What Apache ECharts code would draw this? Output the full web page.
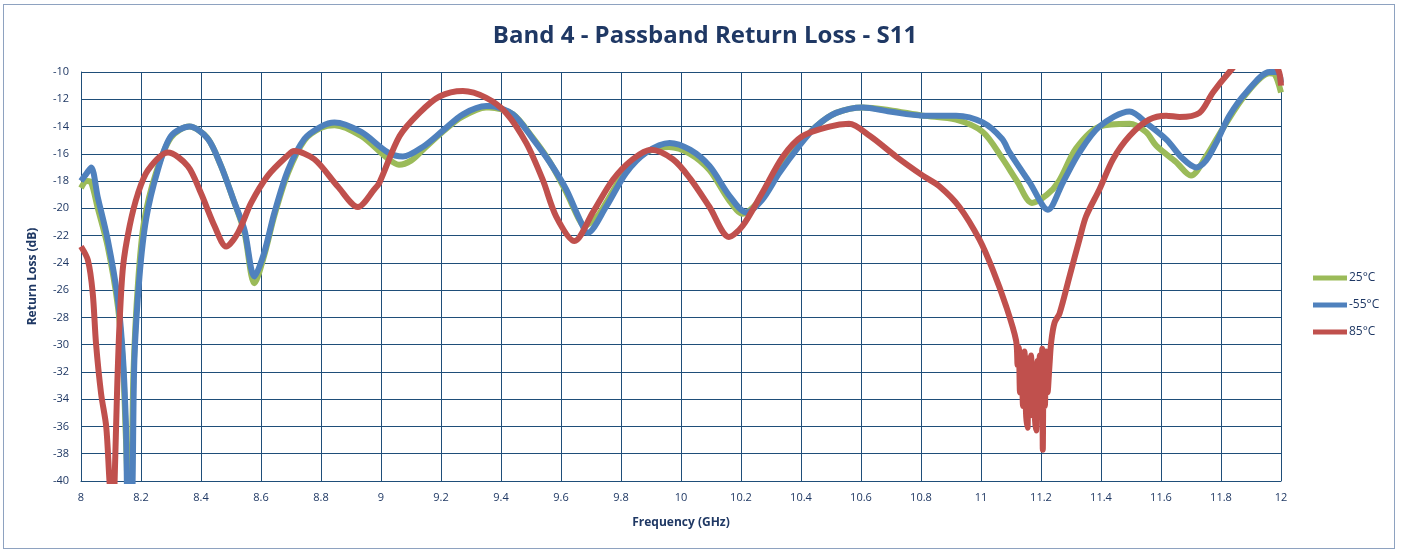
<!DOCTYPE html>
<html><head><meta charset="utf-8">
<script src="https://cdn.jsdelivr.net/npm/echarts@6/dist/echarts.min.js"></script>
<style>
html,body{margin:0;padding:0;background:#fff;}
#frame{position:absolute;left:3px;top:4px;width:1392px;height:545px;border:1px solid #8ea2c0;box-sizing:border-box;}
#chart{position:absolute;left:0;top:0;width:1401px;height:552px;}
</style></head>
<body>
<div id="frame"></div>
<div id="chart"></div>
<script>
const seriesNames = ['25°C', '-55°C', '85°C'];
const freq25 = [8.0,8.02,8.034,8.056,8.089,8.123,8.14,8.15,8.16,8.165,8.175,8.19,8.21,8.25,8.30,8.36,8.42,8.465,8.51,8.545,8.578,8.61,8.645,8.69,8.745,8.80,8.845,8.934,9.02,9.06,9.10,9.14,9.205,9.27,9.35,9.36,9.44,9.505,9.56,9.617,9.66,9.678,9.72,9.75,9.817,9.884,9.96,10.03,10.095,10.16,10.205,10.27,10.33,10.395,10.45,10.517,10.606,10.695,10.806,10.917,11.006,11.07,11.12,11.17,11.22,11.26,11.317,11.395,11.495,11.55,11.584,11.65,11.70,11.75,11.81,11.884,11.962,11.98,12.0];
const rl25 = [-18.5,-18.0,-18.1,-20.0,-22.8,-27.2,-31.5,-37,-42,-42,-32,-25.5,-21.0,-17.4,-14.8,-14.0,-14.8,-16.8,-19.5,-21.8,-25.5,-23.5,-20.5,-17.4,-15.0,-14.1,-13.9,-14.7,-16.3,-16.8,-16.5,-15.7,-14.4,-13.3,-12.6,-12.6,-13.1,-14.8,-16.5,-18.8,-20.8,-21.3,-20.6,-19.6,-17.2,-15.9,-15.5,-16.0,-17.2,-19.4,-20.4,-19.2,-17.1,-15.3,-14.0,-13.0,-12.6,-12.8,-13.2,-13.5,-14.4,-16.3,-18.0,-19.6,-19.0,-18.0,-15.6,-14.0,-13.8,-14.4,-15.4,-16.6,-17.6,-16.2,-14.0,-11.6,-10.1,-10.2,-11.5];
const freqM55 = [8.0,8.02,8.034,8.056,8.089,8.123,8.14,8.15,8.157,8.168,8.178,8.195,8.217,8.256,8.30,8.362,8.423,8.467,8.512,8.545,8.578,8.61,8.645,8.69,8.745,8.80,8.845,8.934,9.023,9.073,9.139,9.206,9.273,9.351,9.362,9.439,9.506,9.562,9.617,9.662,9.689,9.75,9.817,9.884,9.962,10.03,10.095,10.162,10.217,10.27,10.328,10.395,10.45,10.517,10.606,10.695,10.806,10.917,11.006,11.07,11.095,11.162,11.223,11.273,11.328,11.395,11.495,11.56,11.62,11.67,11.717,11.75,11.784,11.828,11.884,11.962,11.99,12.0];
const rlM55 = [-18.0,-17.4,-17.0,-19.2,-22.3,-26.7,-31,-36,-42,-42,-31.1,-25.0,-20.8,-17.2,-14.7,-14.0,-14.9,-16.9,-19.6,-21.6,-25.0,-23.3,-20.3,-17.2,-14.9,-14.0,-13.7,-14.4,-15.9,-16.2,-15.5,-14.3,-13.1,-12.5,-12.5,-13.1,-14.9,-16.6,-18.6,-20.8,-21.8,-19.9,-17.4,-15.9,-15.2,-15.7,-16.9,-19.1,-20.3,-19.4,-17.4,-15.4,-14.0,-13.0,-12.6,-12.9,-13.2,-13.2,-13.7,-14.9,-15.9,-18.1,-20.1,-18.1,-15.9,-14.0,-12.9,-13.9,-15.0,-16.3,-17.0,-16.5,-15.2,-13.2,-11.5,-10.0,-10.0,-10.8];
const freq85 = [8.0,8.023,8.039,8.05,8.067,8.084,8.095,8.103,8.108,8.112,8.12,8.128,8.14,8.162,8.19,8.223,8.29,8.356,8.40,8.445,8.484,8.523,8.567,8.623,8.69,8.71,8.778,8.856,8.923,8.978,8.995,9.062,9.128,9.195,9.273,9.351,9.417,9.484,9.539,9.584,9.645,9.706,9.773,9.839,9.90,9.973,10.03,10.095,10.16,10.205,10.27,10.34,10.405,10.495,10.56,10.63,10.717,10.806,10.862,10.928,10.995,11.039,11.084,11.117,11.122,11.126,11.13,11.135,11.14,11.145,11.15,11.155,11.158,11.162,11.167,11.172,11.176,11.18,11.184,11.188,11.192,11.196,11.2,11.204,11.206,11.209,11.213,11.217,11.222,11.228,11.234,11.245,11.262,11.295,11.328,11.35,11.395,11.44,11.495,11.56,11.617,11.662,11.728,11.773,11.828,11.86,11.95,11.99,12.0];
const rl85 = [-22.8,-23.8,-26.2,-29.9,-33.6,-36.0,-40,-42,-42,-40,-33.6,-28.7,-24.3,-21.3,-18.9,-17.2,-15.9,-16.9,-18.9,-21.3,-22.8,-21.8,-19.6,-17.6,-16.1,-15.8,-16.4,-18.4,-19.9,-18.6,-18.1,-14.7,-13.0,-11.8,-11.4,-11.9,-13.0,-15.2,-17.9,-20.6,-22.4,-20.3,-17.9,-16.4,-15.7,-16.4,-17.8,-19.9,-22.1,-21.3,-18.9,-16.2,-14.7,-14.0,-13.8,-14.7,-16.2,-17.6,-18.4,-19.9,-22.3,-24.5,-27.2,-29.7,-31.5,-30.2,-33.5,-31.0,-34.5,-30.5,-35.0,-36.1,-31.0,-34.8,-30.8,-35.2,-32.0,-35.5,-36.3,-31.2,-34.5,-30.8,-35.0,-30.3,-37.7,-31.0,-34.5,-30.5,-33.5,-31.6,-29.8,-28.4,-27.7,-25.0,-22.3,-20.6,-18.6,-16.4,-14.7,-13.5,-13.2,-13.3,-13.0,-11.5,-10.0,-9.3,-9.0,-9.8,-11.0];
const seriesColors = ['#9bbb59', '#4f81bd', '#c0504d'];

const pairs = (xs, ys) => xs.map((x, i) => [x, ys[i]]);
const dataSets = [pairs(freq25, rl25), pairs(freqM55, rlM55), pairs(freq85, rl85)];

const txt = '#1f3864';
const gridCol = '#1f4e79';
const chart = echarts.init(document.getElementById('chart'), null, {renderer: 'canvas'});
chart.setOption({
  animation: false,
  title: {
    text: 'Band 4 - Passband Return Loss - S11',
    left: 700, top: 19, textAlign: 'center',
    textStyle: {fontFamily: 'Open Sans', fontWeight: 'bold', fontSize: 24, color: txt}
  },
  legend: {
    orient: 'vertical', left: 1308, top: 267, itemGap: 15,
    itemWidth: 34, itemHeight: 5, icon: 'rect',
    textStyle: {fontFamily: 'Open Sans', fontSize: 12, color: txt, padding: [0,0,0,-3]},
    data: seriesNames
  },
  grid: {left: 81, top: 72, width: 1200, height: 409, containLabel: false},
  xAxis: {
    type: 'value', min: 8, max: 12, interval: 0.2,
    name: 'Frequency (GHz)', nameLocation: 'middle', nameGap: 36,
    nameTextStyle: {fontFamily: 'Open Sans', fontWeight: 'bold', fontSize: 12, color: txt},
    axisLine: {show: true, lineStyle: {color: gridCol, width: 1}},
    axisTick: {show: false},
    axisLabel: {fontFamily: 'Open Sans', fontSize: 11, color: txt, margin: 11,
      formatter: v => String(+v.toFixed(1))},
    splitLine: {show: true, lineStyle: {color: gridCol, width: 1}}
  },
  yAxis: {
    type: 'value', min: -40, max: -10, interval: 2,
    name: 'Return Loss (dB)', nameLocation: 'middle', nameGap: 42, nameRotate: 90,
    nameTextStyle: {fontFamily: 'Open Sans', fontWeight: 'bold', fontSize: 12, color: txt},
    axisLine: {show: true, lineStyle: {color: gridCol, width: 1}},
    axisTick: {show: false},
    axisLabel: {fontFamily: 'Open Sans', fontSize: 11, color: txt, margin: 12},
    splitLine: {show: true, lineStyle: {color: gridCol, width: 1}}
  },
  series: seriesNames.map((n, i) => ({
    name: n, type: 'line', data: dataSets[i], showSymbol: false, smooth: 0.3,
    clip: true, color: seriesColors[i],
    lineStyle: {width: 6, color: seriesColors[i]}, z: 2 + i
  }))
});
</script>
</body></html>
